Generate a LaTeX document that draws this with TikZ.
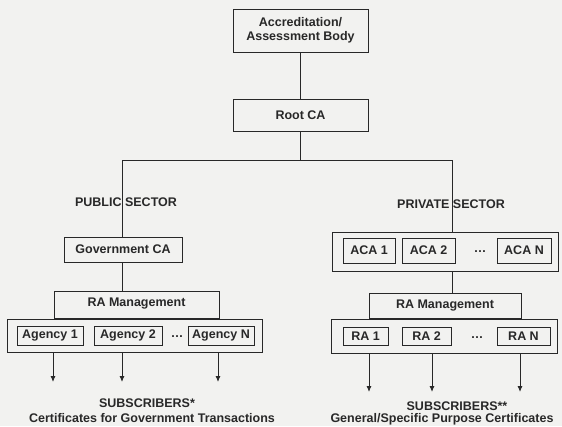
\documentclass[tikz,border=0pt]{standalone}
\usepackage{fontspec}
\setmainfont{Liberation Sans}
\usetikzlibrary{arrows.meta}
\definecolor{paper}{RGB}{242,242,240}
\definecolor{ink}{RGB}{40,40,40}
\begin{document}
\begin{tikzpicture}[x=1pt, y=-1pt,
    font=\fontsize{12.5}{14.5}\selectfont\bfseries,
    box/.style={draw=ink, line width=0.9pt, text=ink, inner sep=0pt, minimum height=#1},
    box/.default=25pt,
    label/.style={text=ink, inner sep=0pt},
    link/.style={draw=ink, line width=0.9pt},
    feed/.style={draw=ink, line width=0.9pt, -{Latex[length=6pt, width=5pt]}}]
    \fill[paper] (0, 0) rectangle (562, 426);
    \useasboundingbox (0, 0) rectangle (562, 426);
    % top of the tree
    \node[box=43pt, minimum width=135pt, align=center] (acc) at (300.5, 30.5) {Accreditation/\\Assessment Body};
    \node[box=32pt, minimum width=135pt] (root) at (300.5, 115) {Root CA};
    \coordinate (pubtop) at (122, 160);
    \coordinate (privtop) at (452, 160);
    \node[label] (public) at (126, 202) {PUBLIC SECTOR};
    \node[label] (private) at (451, 204) {PRIVATE SECTOR};
    % public sector
    \node[box, minimum width=118pt] (gov) at (123, 249.5) {Government CA};
    \node[box=27pt, minimum width=165pt, anchor=south] (ramgL) at (136.5, 319) {};
    \node[label] at (136.5, 304) {RA Management};
    \node[box=33pt, minimum width=255pt] (agframe) at (134.5, 335.5) {};
    \node[box=19pt, minimum width=66pt] (ag1) at (50, 335.5) {Agency 1};
    \node[box=19pt, minimum width=68pt] (ag2) at (128, 335.5) {Agency 2};
    \node[label] (agdots) at (177, 337) {\dots};
    \node[box=19pt, minimum width=66pt] (agN) at (221, 335.5) {Agency N};
    \coordinate (pubend1) at (53, 382);
    \coordinate (pubend2) at (122, 382);
    \coordinate (pubend3) at (218, 382);
    \node[label] (subL) at (147, 403) {SUBSCRIBERS*};
    \node[label] (certL) at (152, 418) {Certificates for Government Transactions};
    % private sector
    \node[box=39pt, minimum width=226pt] (acaframe) at (445, 251.5) {};
    \node[box, minimum width=52pt] (aca1) at (369, 250.5) {ACA 1};
    \node[box, minimum width=53pt] (aca2) at (428.5, 250.5) {ACA 2};
    \node[label] (acadots) at (480, 252) {\dots};
    \node[box, minimum width=54pt] (acaN) at (524, 250.5) {ACA N};
    \node[box=25pt, minimum width=152pt, anchor=south] (ramgR) at (445, 319) {};
    \node[label] at (445, 306) {RA Management};
    \node[box=34pt, minimum width=226pt] (raframe) at (444, 336) {};
    \node[box=18pt, minimum width=45pt] (ra1) at (365.5, 336) {RA 1};
    \node[box=18pt, minimum width=49pt] (ra2) at (426.5, 336) {RA 2};
    \node[label] (radots) at (477, 338) {\dots};
    \node[box=18pt, minimum width=53pt] (raN) at (523.5, 336) {RA N};
    \coordinate (privend1) at (369, 392);
    \coordinate (privend2) at (432, 392);
    \coordinate (privend3) at (520, 392);
    \node[label] (subR) at (457, 406) {SUBSCRIBERS**};
    \node[label] (certR) at (442, 419) {General/Specific Purpose Certificates};
    % connectors
    \draw[link] (acc.south) -- (root.north);
    \draw[link] (root.south) -- (root.south |- pubtop);
    \draw[link] (pubtop |- gov.north) -- (pubtop) -- (privtop) -- (privtop |- acaframe.north);
    \draw[link] (pubtop |- gov.south) -- (pubtop |- ramgL.north);
    \draw[link] (privtop |- acaframe.south) -- (privtop |- ramgR.north);
    \foreach \e in {1, 2, 3} {
        \draw[feed] (pubend\e |- agframe.south) -- (pubend\e);
        \draw[feed] (privend\e |- raframe.south) -- (privend\e);
    }
\end{tikzpicture}
\end{document}
